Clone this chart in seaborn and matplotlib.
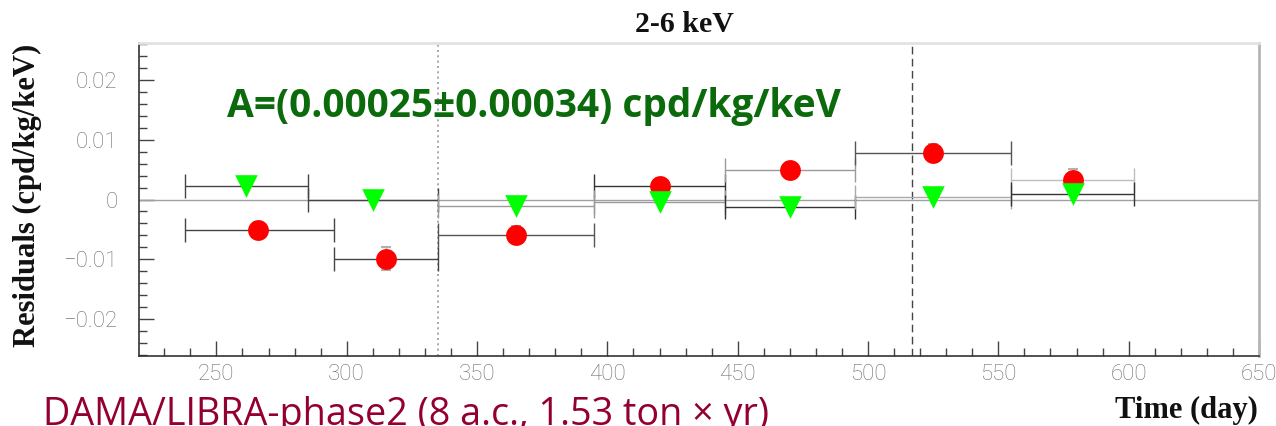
import matplotlib
matplotlib.use("Agg")
import matplotlib.pyplot as plt
from matplotlib.ticker import MultipleLocator, FixedLocator, FixedFormatter
import numpy as np
import pandas as pd
import seaborn as sns

# ---------------- data ----------------
title = "2-6 keV"
ylabel = "Residuals (cpd/kg/keV)"
xlabel = "Time (day)"
amp_text = "A=(0.00025\u00b10.00034) cpd/kg/keV"
caption = "DAMA/LIBRA-phase2 (8 a.c., 1.53 ton \u00d7 yr)"

# red circles (series 1)
red_day = [266, 315, 365, 420, 470, 525, 578.5]
red_res = [-0.0051, -0.0099, -0.0059, 0.0022, 0.0049, 0.0078, 0.0033]
red_err = [0.0014, 0.0019, 0.0014, 0.0014, 0.0014, 0.0014, 0.0018]
red_lo = [238, 295, 335, 395, 445, 495, 555]
red_hi = [295, 335, 395, 445, 495, 555, 602]

# green triangles (series 2)
green_day = [261.5, 310, 365, 420, 470, 525, 578.5]
green_res = [0.0022, 0.0000, -0.0011, -0.0004, -0.0013, 0.0005, 0.0010]
green_lo = [238, 285, 335, 395, 445, 495, 555]
green_hi = [285, 335, 395, 445, 495, 555, 602]

x_ticks = [250, 300, 350, 400, 450, 500, 550, 600, 650]
y_ticks = [-0.02, -0.01, 0.0, 0.01, 0.02]
y_tick_labels = ["\u22120.02", "\u22120.01", "0", "0.01", "0.02"]
dotted_day = 335
dashed_day = 517

# ---------------- styles ----------------
red_line_colors = ["#444444", "#444444", "#555555", "#333333", "#9a9a9a", "#555555", "#bdbdbd"]
green_line_colors = ["#444444", "#444444", "#9a9a9a", "#9a9a9a", "#333333", "#aaaaaa", "#333333"]

sns.set_theme(style="white")
plt.rcParams["font.family"] = ["DejaVu Sans"]

W, H = 1276, 426
fig = plt.figure(figsize=(W / 100, H / 100), dpi=100)
L, R, T, B = 139, 1259, 43, 356
ax = fig.add_axes([L / W, 1 - B / H, (R - L) / W, (B - T) / H])
ax.set_facecolor("white")

ax.set_xlim(220.3, 650)
ax.set_ylim(-0.0261, 0.0261)

# reference lines
ax.axhline(0, color="#a0a0a0", lw=1.0, zorder=1)
ax.axvline(dotted_day, color="#999999", lw=1.2, linestyle=(0, (1.2, 2.0)), zorder=1)
ax.axvline(dashed_day, color="#444444", lw=1.0, linestyle=(0, (5.5, 3.2)), zorder=1)


def draw_bins(days, res, lo, hi, colors, yerr=None):
    for i, (d, r, a, b, c) in enumerate(zip(days, res, lo, hi, colors)):
        cont = ax.errorbar([d], [r], xerr=[[d - a], [b - d]], fmt="none",
                           ecolor=c, elinewidth=1.0, capsize=8.5, capthick=1.0, zorder=2)
        for capline in cont[1]:
            capline.set_color("#c4c4c4")
        if yerr is not None:
            ax.errorbar([d], [r], yerr=[yerr[i]], fmt="none",
                        ecolor="#b0b0b0", elinewidth=1.0, capsize=3.5,
                        capthick=1.5, zorder=2)


draw_bins(red_day, red_res, red_lo, red_hi, red_line_colors, yerr=red_err)
draw_bins(green_day, green_res, green_lo, green_hi, green_line_colors)

df = pd.DataFrame({
    "day": red_day + green_day,
    "res": red_res + green_res,
    "set": ["red"] * len(red_day) + ["green"] * len(green_day),
})
sns.scatterplot(data=df[df["set"] == "red"], x="day", y="res", color="#ff0000",
                marker="o", s=225, linewidth=0, ax=ax, zorder=4, legend=False)
sns.scatterplot(data=df[df["set"] == "green"], x="day", y="res", color="#00ff00",
                marker="v", s=265, linewidth=0, ax=ax, zorder=5, legend=False)

# ticks
ax.xaxis.set_major_locator(FixedLocator(x_ticks))
ax.xaxis.set_minor_locator(MultipleLocator(10))
ax.yaxis.set_major_locator(FixedLocator(y_ticks))
ax.yaxis.set_major_formatter(FixedFormatter(y_tick_labels))
ax.yaxis.set_minor_locator(MultipleLocator(0.002))
ax.tick_params(axis="both", which="both", direction="in", colors="#444444",
               labelcolor="#6e6e6e", labelsize=16, width=1.0)
ax.tick_params(axis="both", which="major", length=11)
ax.tick_params(axis="both", which="minor", length=5.5)
ax.tick_params(axis="y", which="both", left=True, right=False, pad=15.5)
ax.tick_params(axis="x", which="both", bottom=True, top=False, pad=6)
for lab in ax.get_xticklabels() + ax.get_yticklabels():
    lab.set_family(["Roboto", "DejaVu Sans"])
    lab.set_fontweight("light")
ax.set_xlabel("")
ax.set_ylabel("")

for side, col, lw in [("left", "#333333", 1.2), ("bottom", "#333333", 1.2),
                      ("top", "#e2e2e2", 2.0), ("right", "#b5b5b5", 2.0)]:
    ax.spines[side].set_visible(True)
    ax.spines[side].set_color(col)
    ax.spines[side].set_linewidth(lw)

serif = ["Liberation Serif", "DejaVu Serif"]
fig.text(684.5 / W, 1 - 31.5 / H, title, ha="center", va="baseline",
         fontsize=21.5, fontweight="bold", family=serif, color="#111111")
fig.text(27 / W, 1 - 195.5 / H, ylabel, ha="center", va="center", rotation=90,
         fontsize=22, fontweight="bold", family=serif, color="#111111")
fig.text(1258 / W, 1 - 418 / H, xlabel, ha="right", va="baseline",
         fontsize=22, fontweight="bold", family=serif, color="#111111")

fig.canvas.draw()
renderer = fig.canvas.get_renderer()


def fit_text(txt, target_w):
    ext = txt.get_window_extent(renderer)
    txt.set_fontsize(txt.get_fontsize() * target_w / ext.width)


amp = fig.text(227 / W, 1 - 117 / H, amp_text, ha="left", va="baseline",
               fontsize=27, fontweight="bold", family=["Open Sans", "DejaVu Sans"],
               color="#0b6a0b")
fit_text(amp, 843 - 227)
cap = fig.text(43 / W, 1 - 425 / H, caption, ha="left", va="baseline",
               fontsize=24, family=["Open Sans", "DejaVu Sans"], color="#930030")
fit_text(cap, 770 - 43)

fig.savefig("out.png", dpi=100)
